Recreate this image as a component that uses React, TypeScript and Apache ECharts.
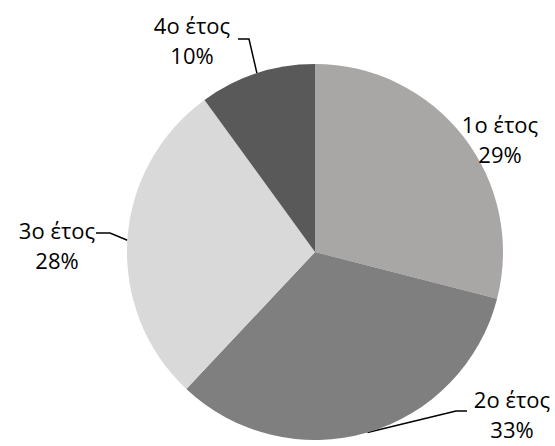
import React, { useEffect, useRef } from "react";
import * as echarts from "echarts";

const categories = ["1ο έτος", "2ο έτος", "3ο έτος", "4ο έτος"];
const values = [29, 33, 28, 10];
const colors = ["#A9A6A6", "#7F7F7F", "#D9D9D9", "#595959"];
const showLeader = [false, true, true, true];

// label block centre and leader-line elbow/end points (layout only)
const labelCenters = [
  [500, 139],
  [512, 414],
  [57, 245],
  [192, 40],
];
const leaderElbows = [
  null,
  [[456, 411], [467, 411]],
  [[110, 233], [96, 233]],
  [[249, 39], [238, 39]],
];

export default function App() {
  const ref = useRef<HTMLDivElement>(null);
  useEffect(() => {
    if (!ref.current) return;
    const chart = echarts.init(ref.current, null, { renderer: "svg" });
    chart.setOption({
      animation: false,
      backgroundColor: "#ffffff",
      series: [
        {
          type: "pie",
          center: [315, 252],
          radius: 188,
          startAngle: 90,
          clockwise: true,
          avoidLabelOverlap: false,
          itemStyle: { borderWidth: 0 },
          label: {
            show: true,
            position: "outside",
            formatter: (p: any) => `${p.name}\n${p.value}%`,
            fontFamily: "Open Sans",
            fontSize: 22,
            lineHeight: 30,
            color: "#000000",
            align: "center",
          },
          labelLine: {
            show: true,
            lineStyle: { color: "#000000", width: 1.5 },
          },
          labelLayout: (params: any) => {
            const i = params.dataIndex;
            const c = labelCenters[i];
            const res: any = {
              x: c[0],
              y: c[1],
              align: "center",
              verticalAlign: "middle",
            };
            const el = leaderElbows[i];
            if (el && params.labelLinePoints) {
              res.labelLinePoints = [params.labelLinePoints[0], el[0], el[1]];
            }
            return res;
          },
          emphasis: { disabled: true },
          data: categories.map((name, i) => ({
            name,
            value: values[i],
            itemStyle: { color: colors[i] },
            labelLine: { show: showLeader[i] },
          })),
        },
      ],
    });
    return () => chart.dispose();
  }, []);
  return (
    <div
      ref={ref}
      style={{ position: "absolute", left: 0, top: 0, width: 555, height: 446 }}
    />
  );
}
